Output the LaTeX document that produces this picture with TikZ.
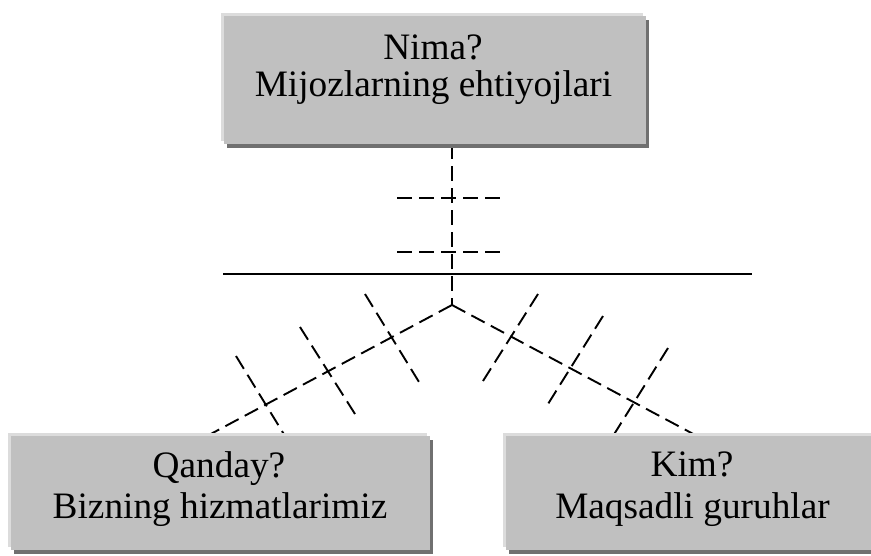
\documentclass[tikz,border=0pt]{standalone}
\usepackage{fontspec}
\setmainfont{Liberation Serif}
\pgfdeclarelayer{background}
\pgfsetlayers{background,main}
\definecolor{boxgray}{HTML}{C0C0C0}
\definecolor{boxlight}{HTML}{DCDCDC}
\definecolor{boxshadow}{HTML}{707070}
\tikzset{
  box/.style={rectangle, inner sep=0pt, outer sep=0pt, fill=boxgray,
    preaction={fill=boxlight, transform canvas={shift={(-3pt,3pt)}}},
    preaction={fill=boxshadow, transform canvas={shift={(2.5pt,-3.5pt)}}}},
  txt/.style={inner sep=0pt, anchor=base, font=\fontsize{37.3}{44}\selectfont},
  dashline/.style={line width=1.9pt, dash pattern=on 15pt off 7pt},
  solidline/.style={line width=2.6pt}
}
\begin{document}
\begin{tikzpicture}[x=1pt, y=-1pt]
\useasboundingbox (0,0) rectangle (871,555);
\clip (0,0) rectangle (871,555);
% boxes
\node[box, minimum width=422pt, minimum height=128pt] (top) at (435,80) {};
\node[box, minimum width=419pt, minimum height=114pt] (left) at (220.5,493) {};
\node[box, minimum width=370pt, minimum height=114pt] (right) at (691,493) {};
% texts
\node[txt] (t1) at (433,59.3) {Nima?};
\node[txt] (t2) at (433.5,96.7) {Mijozlarning ehtiyojlari};
\node[txt] (l1) at (219,477) {Qanday?};
\node[txt] (l2) at (220,518) {Bizning hizmatlarimiz};
\node[txt] (r1) at (692,476) {Kim?};
\node[txt] (r2) at (692.5,518) {Maqsadli guruhlar};
% connectors
\coordinate (j) at (452,305);
\coordinate (lend) at (207,436);
\coordinate (rend) at (697,436);
\coordinate (hl) at (223,274);
\coordinate (hr) at (752,274);
\begin{pgfonlayer}{background}
\draw[dashline] (top.south -| j) -- (j);
\draw[dashline] (j) -- (lend);
\draw[dashline] (j) -- (rend);
\draw[solidline] (hl) -- (hr);
% cross ticks on the vertical line
\draw[dashline] (397,198) -- (501,198);
\draw[dashline] (397,252) -- (501,252);
% cross ticks on the left branch
\draw[dashline] (365,294) -- (419,382);
\draw[dashline] (300,327) -- (355,414);
\draw[dashline] (236,356) -- (285,436);
% cross ticks on the right branch
\draw[dashline] (538,294) -- (483,381);
\draw[dashline] (603,316) -- (548,404);
\draw[dashline] (668,348) -- (613,436);
\end{pgfonlayer}
\end{tikzpicture}
\end{document}
